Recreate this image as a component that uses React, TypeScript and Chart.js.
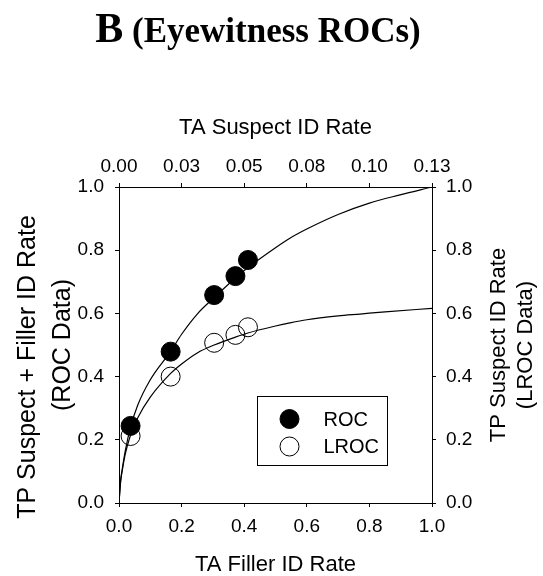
import React, { useEffect, useRef } from "react";
import { Chart, registerables } from "chart.js";

Chart.register(...registerables);

// ---- data ----
const seriesLabels = ["ROC", "LROC"];
const fillerRates = [0.037, 0.165, 0.304, 0.372, 0.412];
const rocRates = [0.244, 0.479, 0.658, 0.718, 0.769];
const lrocRates = [0.212, 0.4, 0.507, 0.532, 0.556];

const rocCurveX = [0, 0.005, 0.01, 0.02, 0.037, 0.06, 0.1, 0.165, 0.2, 0.25, 0.304, 0.372, 0.412, 0.5, 0.546, 0.6, 0.7, 0.8, 0.898, 1];
const rocCurveY = [0, 0.07, 0.105, 0.165, 0.24, 0.31, 0.39, 0.48, 0.534, 0.598, 0.65, 0.712, 0.745, 0.808, 0.838, 0.867, 0.913, 0.949, 0.975, 1];

const lrocCurveX = [0, 0.005, 0.01, 0.02, 0.037, 0.06, 0.1, 0.165, 0.2, 0.25, 0.304, 0.372, 0.412, 0.5, 0.546, 0.6, 0.7, 0.77, 0.85, 1];
const lrocCurveY = [0, 0.065, 0.1, 0.155, 0.215, 0.27, 0.335, 0.41, 0.44, 0.475, 0.5, 0.525, 0.538, 0.56, 0.57, 0.58, 0.592, 0.598, 0.605, 0.616];

const bottomTickLabels = ["0.0", "0.2", "0.4", "0.6", "0.8", "1.0"];
const leftTickLabels = ["0.0", "0.2", "0.4", "0.6", "0.8", "1.0"];
const rightTickLabels = ["0.0", "0.2", "0.4", "0.6", "0.8", "1.0"];
const topTickLabels = ["0.00", "0.03", "0.05", "0.08", "0.10", "0.13"];

const titleLead = "B";
const titleRest = " (Eyewitness ROCs)";
const bottomTitle = "TA Filler ID Rate";
const topTitle = "TA Suspect ID Rate";
const leftTitle = ["TP Suspect + Filler ID Rate", "(ROC Data)"];
const rightTitle = ["TP Suspect ID Rate", "(LROC Data)"];

const SANS = '"Liberation Sans", Arial, sans-serif';
const SERIF = '"Liberation Serif", "Times New Roman", serif';

function drawRotated(ctx: any, text: string, x: number, y: number) {
  ctx.save();
  ctx.translate(x, y);
  ctx.rotate(-Math.PI / 2);
  ctx.fillText(text, 0, 0);
  ctx.restore();
}

const sideTitlesPlugin = {
  id: "sideTitles",
  afterDraw(chart: any) {
    const { ctx, chartArea } = chart;
    const cy = (chartArea.top + chartArea.bottom) / 2;
    ctx.save();
    ctx.fillStyle = "#000";
    ctx.textAlign = "center";
    ctx.textBaseline = "middle";
    // left (ROC) title
    ctx.font = `25px ${SANS}`;
    drawRotated(ctx, leftTitle[0], chartArea.left - 91, cy + 22);
    drawRotated(ctx, leftTitle[1], chartArea.left - 56, cy);
    // right (LROC) title
    ctx.font = `22px ${SANS}`;
    rightTitle.forEach((line, i) => {
      drawRotated(ctx, line, chartArea.right + 67 + i * 27, cy);
    });
    ctx.restore();
  },
};

const boxLegendPlugin = {
  id: "boxLegend",
  afterDraw(chart: any) {
    const { ctx, chartArea } = chart;
    const left = chartArea.left + 138.5;
    const top = chartArea.top + 209.5;
    const w = 130;
    const h = 69;
    ctx.save();
    ctx.fillStyle = "#fff";
    ctx.strokeStyle = "#000";
    ctx.lineWidth = 1;
    ctx.fillRect(left, top, w, h);
    ctx.strokeRect(left, top, w, h);
    ctx.font = `20px ${SANS}`;
    ctx.textAlign = "left";
    ctx.textBaseline = "middle";
    const fills = ["#000", "#fff"];
    seriesLabels.forEach((lab, i) => {
      const cy = top + 22.5 + i * 27.5;
      ctx.beginPath();
      ctx.arc(left + 32, cy, 9.5, 0, Math.PI * 2);
      ctx.fillStyle = fills[i];
      ctx.fill();
      ctx.strokeStyle = "#000";
      ctx.stroke();
      ctx.fillStyle = "#000";
      ctx.fillText(lab, left + 66, cy + 1);
    });
    ctx.restore();
  },
};

export default function App() {
  const ref = useRef<HTMLCanvasElement | null>(null);

  useEffect(() => {
    if (!ref.current) return;
    const tickFont = { family: SANS, size: 19 };
    const gridCfg = {
      drawOnChartArea: false,
      drawTicks: true,
      tickLength: 4,
      tickColor: "#000",
      tickWidth: 1,
    };
    const borderCfg = { display: true, color: "#000", width: 1 };

    const chart = new Chart(ref.current, {
      type: "scatter",
      data: {
        datasets: [
          {
            label: seriesLabels[0],
            data: fillerRates.map((x, i) => ({ x, y: rocRates[i] })),
            showLine: false,
            pointRadius: 9.5,
            pointHoverRadius: 9.5,
            backgroundColor: "#000",
            borderColor: "#000",
            borderWidth: 1,
            xAxisID: "x",
            yAxisID: "y",
            order: 0,
          },
          {
            label: seriesLabels[1],
            data: fillerRates.map((x, i) => ({ x, y: lrocRates[i] })),
            showLine: false,
            pointRadius: 9.5,
            pointHoverRadius: 9.5,
            backgroundColor: "rgba(255,255,255,0)",
            borderColor: "#000",
            borderWidth: 1,
            xAxisID: "x",
            yAxisID: "y",
            order: 1,
          },
          {
            label: "ROC fit",
            data: rocCurveX.map((x, i) => ({ x, y: rocCurveY[i] })),
            showLine: true,
            pointRadius: 0,
            borderColor: "#000",
            borderWidth: 1.2,
            cubicInterpolationMode: "monotone",
            xAxisID: "x",
            yAxisID: "y",
            order: 2,
          },
          {
            label: "LROC fit",
            data: lrocCurveX.map((x, i) => ({ x, y: lrocCurveY[i] })),
            showLine: true,
            pointRadius: 0,
            borderColor: "#000",
            borderWidth: 1.2,
            cubicInterpolationMode: "monotone",
            xAxisID: "x",
            yAxisID: "y",
            order: 3,
          },
        ],
      },
      options: {
        responsive: false,
        animation: false,
        devicePixelRatio: 1,
        layout: { padding: 0 },
        plugins: {
          legend: { display: false },
          title: { display: false },
          tooltip: { enabled: false },
        },
        scales: {
          x: {
            type: "linear",
            position: "bottom",
            min: 0,
            max: 1,
            afterFit: (s: any) => {
              s.height = 73;
            },
            afterBuildTicks: (s: any) => {
              s.ticks = bottomTickLabels.map((_, i) => ({ value: i * 0.2 }));
            },
            ticks: {
              color: "#000",
              font: tickFont,
              padding: 8,
              maxRotation: 0,
              autoSkip: false,
              callback: (_v: any, i: number) => bottomTickLabels[i],
            },
            grid: gridCfg,
            border: borderCfg,
            title: {
              display: true,
              text: bottomTitle,
              color: "#000",
              font: { family: SANS, size: 22, lineHeight: 1 },
              padding: { top: 0, bottom: 0 },
            },
          },
          x2: {
            type: "linear",
            position: "top",
            min: 0,
            max: 0.125,
            afterFit: (s: any) => {
              s.height = 187;
            },
            afterBuildTicks: (s: any) => {
              s.ticks = topTickLabels.map((_, i) => ({ value: i * 0.025 }));
            },
            ticks: {
              color: "#000",
              font: tickFont,
              padding: 5,
              maxRotation: 0,
              autoSkip: false,
              callback: (_v: any, i: number) => topTickLabels[i],
            },
            grid: gridCfg,
            border: borderCfg,
            title: {
              display: true,
              text: topTitle,
              color: "#000",
              font: { family: SANS, size: 22, lineHeight: 1 },
              padding: { top: 117, bottom: 0 },
            },
          },
          y: {
            type: "linear",
            position: "left",
            min: 0,
            max: 1,
            afterFit: (s: any) => {
              s.width = 119;
            },
            afterBuildTicks: (s: any) => {
              s.ticks = leftTickLabels.map((_, i) => ({ value: i * 0.2 }));
            },
            ticks: {
              color: "#000",
              font: tickFont,
              padding: 11,
              autoSkip: false,
              callback: (_v: any, i: number) => leftTickLabels[i],
            },
            grid: gridCfg,
            border: borderCfg,
          },
          y2: {
            type: "linear",
            position: "right",
            min: 0,
            max: 1,
            afterFit: (s: any) => {
              s.width = 111;
            },
            afterBuildTicks: (s: any) => {
              s.ticks = rightTickLabels.map((_, i) => ({ value: i * 0.2 }));
            },
            ticks: {
              color: "#000",
              font: tickFont,
              padding: 10,
              autoSkip: false,
              callback: (_v: any, i: number) => rightTickLabels[i],
            },
            grid: gridCfg,
            border: borderCfg,
          },
        },
      },
      plugins: [sideTitlesPlugin, boxLegendPlugin],
    } as any);

    return () => chart.destroy();
  }, []);

  return (
    <div
      style={{
        position: "fixed",
        left: 0,
        top: 0,
        width: 543,
        height: 576,
        background: "#fff",
        overflow: "hidden",
      }}
    >
      <canvas
        ref={ref}
        width={543}
        height={576}
        style={{ position: "absolute", left: 0, top: 0, width: 543, height: 576 }}
      />
      <div
        style={{
          position: "absolute",
          left: 0,
          top: 7,
          width: 516,
          textAlign: "center",
          whiteSpace: "nowrap",
          fontFamily: SERIF,
          fontWeight: "bold",
          fontSize: 35,
          lineHeight: "42px",
          color: "#000",
        }}
      >
        <span style={{ fontSize: 42 }}>{titleLead}</span>
        {titleRest}
      </div>
    </div>
  );
}
